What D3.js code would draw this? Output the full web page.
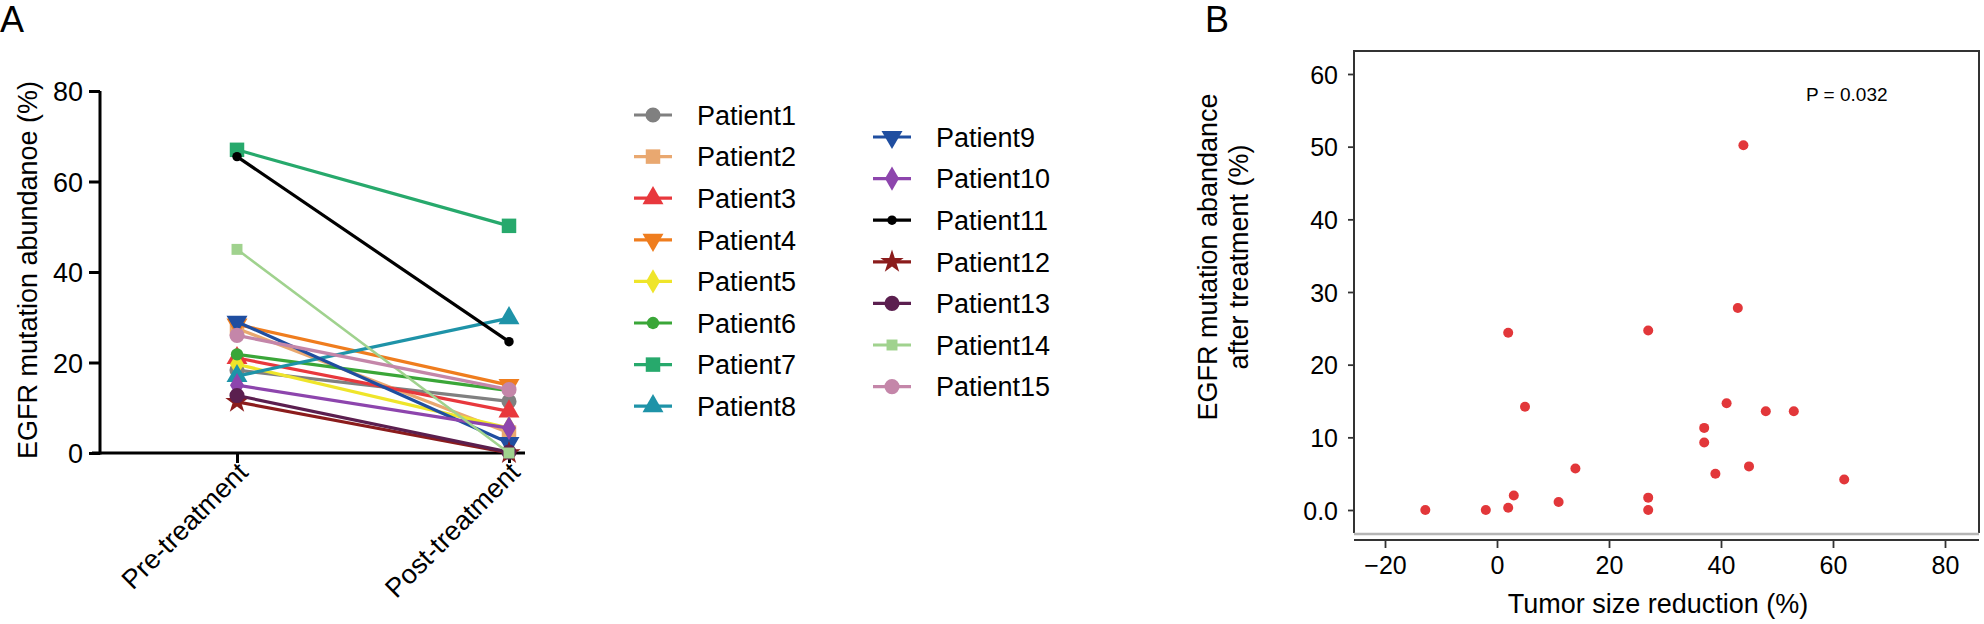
<!DOCTYPE html>
<html><head><meta charset="utf-8">
<script src="https://cdn.jsdelivr.net/npm/d3@7"></script>
<style>
html,body{margin:0;padding:0;background:#fff;}
svg{display:block;font-family:"Liberation Sans",Arial,Helvetica,sans-serif;}
</style></head>
<body>
<svg id="chart" width="1984" height="624"></svg>
<script>
// ---- Panel A data ----
const patients = ["Patient1","Patient2","Patient3","Patient4","Patient5","Patient6","Patient7","Patient8",
  "Patient9","Patient10","Patient11","Patient12","Patient13","Patient14","Patient15"];
const timepoints = ["Pre-treatment","Post-treatment"];
const preValues  = [18.3, 27.5, 21.0, 28.4, 19.6, 21.8, 67.0, 17.0, 29.0, 15.0, 65.5, 11.3, 12.7, 45.0, 26.0];
const postValues = [11.4, 4.5, 9.2, 15.0, 5.5, 13.8, 50.2, 29.8, 2.2, 5.5, 24.6, 0.0, 0.2, 0.0, 14.0];
const patientColors = ["#808080","#e9a870","#e8383d","#ef7d1e","#efe52a","#3aa638","#27a96c","#1e93a8",
  "#1f4ea0","#8d45ad","#000000","#8b1c1c","#5b1f4f","#a0d28e","#c486a9"];
const patientShapes = ["circle","square","triangle","triangleDown","diamond","circleS","square","triangle",
  "triangleDown","diamond","circleXS","star","circle","squareS","circle"];
const yTicksA = [0, 20, 40, 60, 80];

// ---- Panel B data ----
const tumorReduction = [-12.8, -2.0, 2.0, 3.0, 2.0, 5.0, 11.0, 14.0, 27.0, 27.0, 27.0, 37.0, 37.0, 39.0, 41.0, 43.0, 44.0, 45.0, 48.0, 53.0, 62.0];
const abundanceAfter = [0.0, 0.0, 0.3, 2.0, 24.4, 14.2, 1.1, 5.7, 24.7, 1.7, 0.0, 11.3, 9.3, 5.0, 14.7, 27.8, 50.2, 6.0, 13.6, 13.6, 4.2];
const xTicksB = [-20, 0, 20, 40, 60, 80];
const yTicksB = [0, 10, 20, 30, 40, 50, 60];
const yTickLabelsB = ["0.0","10","20","30","40","50","60"];

const svg = d3.select("#chart");

// ================= Panel A =================
const xA = d3.scalePoint().domain(timepoints).range([237, 509]);
const yA = d3.scaleLinear().domain([0, 80]).range([453, 91]);

svg.append("text").attr("x", 0).attr("y", 32).attr("font-size", 36).text("A");

// y axis
const gyA = svg.append("g").attr("transform", "translate(100,0)")
  .call(d3.axisLeft(yA).tickValues(yTicksA).tickSize(11).tickPadding(6).tickFormat(d3.format("d")));
gyA.select(".domain").attr("stroke", "#000").attr("stroke-width", 3).attr("d", "M0," + yA(80) + "V" + (yA(0)+1.5));
gyA.selectAll(".tick line").attr("stroke", "#000").attr("stroke-width", 3);
gyA.selectAll(".tick text").attr("font-size", 27).attr("fill", "#000").attr("dy", "0.36em");

// x axis
const gxA = svg.append("g").attr("transform", "translate(0," + yA(0) + ")")
  .call(d3.axisBottom(xA).tickSize(10).tickFormat(""));
gxA.select(".domain").attr("stroke", "#000").attr("stroke-width", 3).attr("d", "M92,0H525");
gxA.selectAll(".tick line").attr("stroke", "#000").attr("stroke-width", 3);
gxA.selectAll(".tick").append("text")
  .attr("transform", "translate(12,21) rotate(-45)")
  .attr("text-anchor", "end").attr("font-size", 27).attr("fill", "#000")
  .text(d => d);

svg.append("text")
  .attr("transform", "translate(37," + ((yA(0)+yA(80))/2 - 2) + ") rotate(-90)")
  .attr("text-anchor", "middle").attr("font-size", 27)
  .text("EGFR mutation abundanoe (%)");

function symPath(shape) {
  const map = {
    circle: [d3.symbolCircle, 180],
    circleS: [d3.symbolCircle, 120],
    circleXS: [d3.symbolCircle, 70],
    square: [d3.symbolSquare, 210],
    squareS: [d3.symbolSquare, 120],
    triangle: [d3.symbolTriangle, 190],
    triangleDown: [d3.symbolTriangle, 190],
    diamond: [d3.symbolDiamond, 170],
    star: [d3.symbolStar, 170]
  };
  const m = map[shape];
  return d3.symbol().type(m[0]).size(m[1])();
}
function symTransform(shape) {
  return shape === "triangleDown" ? " rotate(180)" : "";
}

const lineA = d3.line().x(d => xA(d.t)).y(d => yA(d.v));
patients.forEach((p, i) => {
  const pts = [{t: timepoints[0], v: preValues[i]}, {t: timepoints[1], v: postValues[i]}];
  const g = svg.append("g");
  g.append("path").attr("d", lineA(pts)).attr("fill", "none")
    .attr("stroke", patientColors[i]).attr("stroke-width", (i === 13) ? 2.5 : 3.2);
  g.selectAll("path.m").data(pts).enter().append("path")
    .attr("d", symPath(patientShapes[i]))
    .attr("transform", d => "translate(" + xA(d.t) + "," + yA(d.v) + ")" + symTransform(patientShapes[i]))
    .attr("fill", patientColors[i]);
});

// legend
const legendCols = [{x: 653, start: 0, n: 8}, {x: 892, start: 8, n: 7}];
const legendTop = [115, 137];
legendCols.forEach((c, ci) => {
  for (let k = 0; k < c.n; k++) {
    const i = c.start + k;
    const y = legendTop[ci] + k * 41.6;
    const g = svg.append("g").attr("transform", "translate(" + c.x + "," + y + ")");
    g.append("line").attr("x1", -19).attr("x2", 19).attr("y1", 0).attr("y2", 0)
      .attr("stroke", patientColors[i]).attr("stroke-width", 3.2);
    g.append("path").attr("d", symPath(patientShapes[i]))
      .attr("transform", symTransform(patientShapes[i]))
      .attr("fill", patientColors[i]);
    g.append("text").attr("x", 44).attr("y", 0).attr("dy", "0.36em")
      .attr("font-size", 27).text(patients[i]);
  }
});

// ================= Panel B =================
const xB = d3.scaleLinear().domain([-20, 80]).range([1385, 1945]);
const yB = d3.scaleLinear().domain([0, 60]).range([510, 74]);
const boxL = 1354, boxR = 1979, boxT = 51, boxB = 533;

svg.append("text").attr("x", 1205).attr("y", 32).attr("font-size", 36).text("B");

svg.append("path").attr("d", "M" + boxL + "," + boxB + "V" + boxT + "H" + boxR + "V" + boxB)
  .attr("fill", "none").attr("stroke", "#333").attr("stroke-width", 2);
svg.append("line").attr("x1", boxL).attr("x2", boxR).attr("y1", boxB + 1).attr("y2", boxB + 1)
  .attr("stroke", "#b5b5b5").attr("stroke-width", 2.5);

const gyB = svg.append("g").attr("transform", "translate(" + boxL + ",0)")
  .call(d3.axisLeft(yB).tickValues(yTicksB).tickSize(6).tickPadding(10).tickFormat((d, i) => yTickLabelsB[i]));
gyB.select(".domain").remove();
gyB.selectAll(".tick line").attr("stroke", "#333").attr("stroke-width", 1.8);
gyB.selectAll(".tick text").attr("font-size", 25).attr("fill", "#000").attr("dy", "0.36em");

const gxB = svg.append("g").attr("transform", "translate(0,540)")
  .call(d3.axisBottom(xB).tickValues(xTicksB).tickSize(8).tickPadding(8).tickFormat(d => d < 0 ? "\u2212" + Math.abs(d) : d));
gxB.select(".domain").attr("stroke", "#333").attr("stroke-width", 2).attr("d", "M" + boxL + ",0H" + boxR);
gxB.selectAll(".tick line").attr("stroke", "#333").attr("stroke-width", 1.8);
gxB.selectAll(".tick text").attr("font-size", 25).attr("fill", "#000");

svg.append("text").attr("x", 1658).attr("y", 613).attr("text-anchor", "middle")
  .attr("font-size", 27).text("Tumor size reduction (%)");

const yTitle = svg.append("text")
  .attr("transform", "translate(1207,257) rotate(-90)")
  .attr("text-anchor", "middle").attr("font-size", 27);
yTitle.append("tspan").attr("x", 0).attr("y", 10).text("EGFR mutation abandance");
yTitle.append("tspan").attr("x", 0).attr("y", 41).text("after treatment (%)");

svg.append("text").attr("x", 1806).attr("y", 101).attr("font-size", 19).text("P = 0.032");

svg.append("g").selectAll("circle").data(tumorReduction).enter().append("circle")
  .attr("cx", d => xB(d)).attr("cy", (d, i) => yB(abundanceAfter[i]))
  .attr("r", 5).attr("fill", "#e2373a");
</script>
</body></html>
